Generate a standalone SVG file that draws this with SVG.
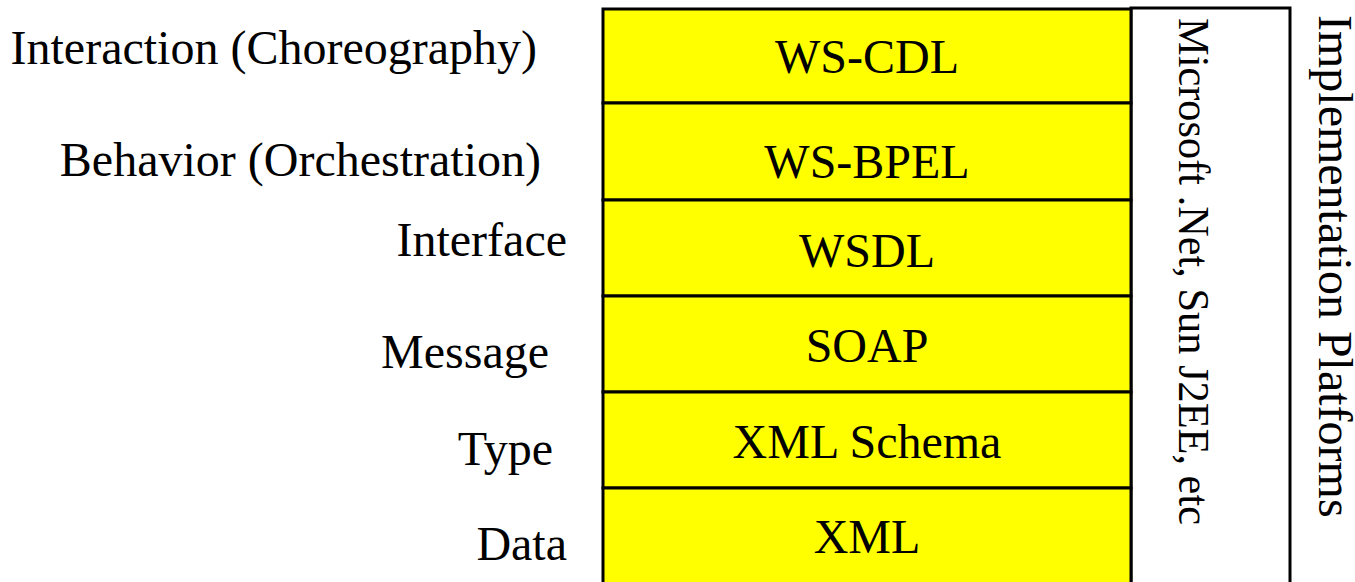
<svg xmlns="http://www.w3.org/2000/svg" width="1355" height="582" viewBox="0 0 1355 582">
  <style>
    text { font-family: "Liberation Serif", "Times New Roman", serif; font-size: 48px; fill: #000; }
    .layer { fill: #ffff00; stroke: #000; stroke-width: 3; }
    .lbl { text-anchor: end; }
    .mid { text-anchor: middle; }
  </style>
  <rect width="1355" height="582" fill="#fff"/>

  <!-- platform column -->
  <g id="platforms">
    <rect x="1131" y="8" width="159" height="590" fill="#fff" stroke="#000" stroke-width="3"/>
    <text transform="translate(1179,18) rotate(90)" style="font-size:44px" textLength="507" lengthAdjust="spacingAndGlyphs">Microsoft .Net, Sun J2EE, etc</text>
  </g>
  <text id="impl-title" transform="translate(1319,15) rotate(90)">Implementation Platforms</text>

  <!-- protocol stack layers, top to bottom -->
  <g id="layer-wscdl">
    <rect class="layer" x="603" y="9" width="528" height="94"/>
    <text class="mid" x="867" y="73">WS-CDL</text>
  </g>
  <g id="layer-wsbpel">
    <rect class="layer" x="603" y="103" width="528" height="97"/>
    <text class="mid" x="867" y="178">WS-BPEL</text>
  </g>
  <g id="layer-wsdl">
    <rect class="layer" x="603" y="200" width="528" height="96"/>
    <text class="mid" x="867" y="267">WSDL</text>
  </g>
  <g id="layer-soap">
    <rect class="layer" x="603" y="296" width="528" height="96"/>
    <text class="mid" x="867" y="362">SOAP</text>
  </g>
  <g id="layer-xmlschema">
    <rect class="layer" x="603" y="392" width="528" height="96"/>
    <text class="mid" x="867" y="458">XML Schema</text>
  </g>
  <g id="layer-xml">
    <rect class="layer" x="603" y="488" width="528" height="110"/>
    <text class="mid" x="867" y="553">XML</text>
  </g>

  <!-- layer names -->
  <g id="labels">
    <text class="lbl" x="537" y="64">Interaction (Choreography)</text>
    <text class="lbl" x="541" y="176">Behavior (Orchestration)</text>
    <text class="lbl" x="567" y="256">Interface</text>
    <text class="lbl" x="549" y="368">Message</text>
    <text class="lbl" x="553" y="465">Type</text>
    <text class="lbl" x="567" y="560">Data</text>
  </g>
  <g id="connectors"/>
</svg>
